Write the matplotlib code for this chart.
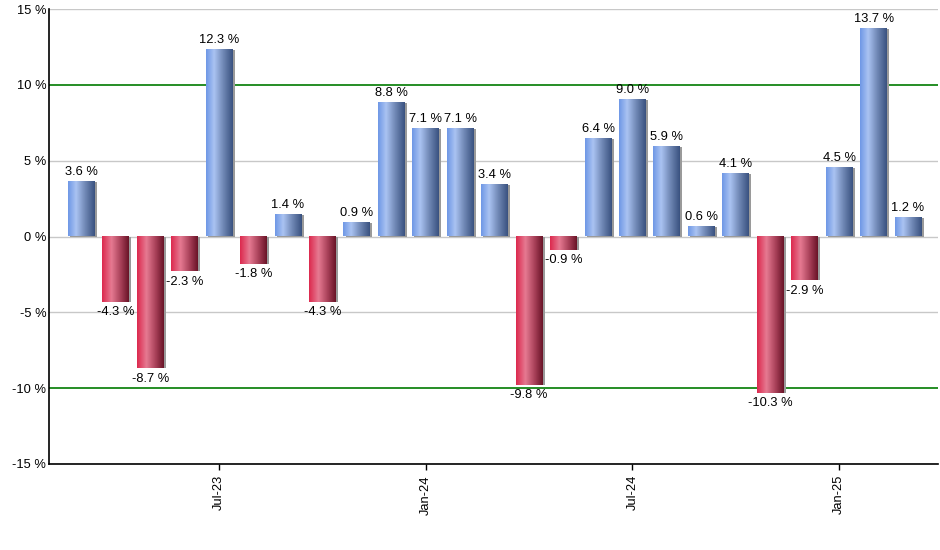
import matplotlib
matplotlib.use("Agg")
import matplotlib.pyplot as plt
import numpy as np
from matplotlib.colors import LinearSegmentedColormap

months = ["Mar-23", "Apr-23", "May-23", "Jun-23", "Jul-23", "Aug-23", "Sep-23", "Oct-23",
          "Nov-23", "Dec-23", "Jan-24", "Feb-24", "Mar-24", "Apr-24", "May-24", "Jun-24",
          "Jul-24", "Aug-24", "Sep-24", "Oct-24", "Nov-24", "Dec-24", "Jan-25", "Feb-25", "Mar-25"]
returns = [3.6, -4.3, -8.7, -2.3, 12.3, -1.8, 1.4, -4.3, 0.9, 8.8, 7.1, 7.1, 3.4, -9.8, -0.9,
           6.4, 9.0, 5.9, 0.6, 4.1, -10.3, -2.9, 4.5, 13.7, 1.2]
tick_labels = ["Jul-23", "Jan-24", "Jul-24", "Jan-25"]
y_ticks = [-15, -10, -5, 0, 5, 10, 15]

plt.rcParams['font.family'] = ['Liberation Sans', 'DejaVu Sans']
FS = 9.3

fig = plt.figure(figsize=(9.4, 5.5), dpi=100)
ax = fig.add_axes([49 / 940, 86 / 550, 889 / 940, 455 / 550])

blue_cmap = LinearSegmentedColormap.from_list(
    "b", [(0, "#6f98e6"), (0.3, "#aac3f2"), (0.65, "#6f87b4"), (1, "#3a5280")])
red_cmap = LinearSegmentedColormap.from_list(
    "r", [(0, "#dc2a4e"), (0.35, "#e67a92"), (0.7, "#a84058"), (1, "#6a1428")])
grad = np.linspace(0, 1, 64).reshape(1, -1)

x = np.arange(len(returns))
width = 0.78
# shadows
ax.bar(x + 0.06, returns, width=width, color="#9a9a9a", zorder=2)
bars = ax.bar(x, returns, width=width, color="none", zorder=3)
for b, v in zip(bars, returns):
    x0 = b.get_x()
    x1 = x0 + b.get_width()
    y0 = min(0, v)
    y1 = max(0, v)
    ax.imshow(grad, cmap=blue_cmap if v >= 0 else red_cmap, aspect="auto",
              extent=[x0, x1, y0, y1], zorder=3, interpolation="bilinear")
    if v >= 0:
        ax.annotate(f"{v:.1f} %", (b.get_x() + b.get_width() / 2, v), xytext=(0, 3),
                    textcoords="offset points", ha="center", va="bottom", fontsize=FS)
    else:
        ax.annotate(f"{v:.1f} %", (b.get_x() + b.get_width() / 2, v), xytext=(0, -3),
                    textcoords="offset points", ha="center", va="top", fontsize=FS)

for yv in y_ticks:
    if abs(yv) == 10:
        ax.axhline(yv, color="#007a00", lw=1.2, zorder=1)
    else:
        ax.axhline(yv, color="#c8c8c8", lw=1.0, zorder=1)

ax.set_xlim(-0.94, 24.87)
ax.set_ylim(-15, 15)
ax.set_yticks(y_ticks)
ax.set_yticklabels([f"{v} %" for v in y_ticks], fontsize=FS)
tick_pos = [months.index(t) for t in tick_labels]
ax.set_xticks(tick_pos)
ax.set_xticklabels(tick_labels, rotation=90, fontsize=FS)
ax.tick_params(axis="y", length=0, pad=2)
ax.tick_params(axis="x", length=4, width=1, pad=4)
for s in ["top", "right"]:
    ax.spines[s].set_visible(False)
for s in ["left", "bottom"]:
    ax.spines[s].set_linewidth(1.2)
    ax.spines[s].set_zorder(5)

fig.savefig("out.png", dpi=100)
